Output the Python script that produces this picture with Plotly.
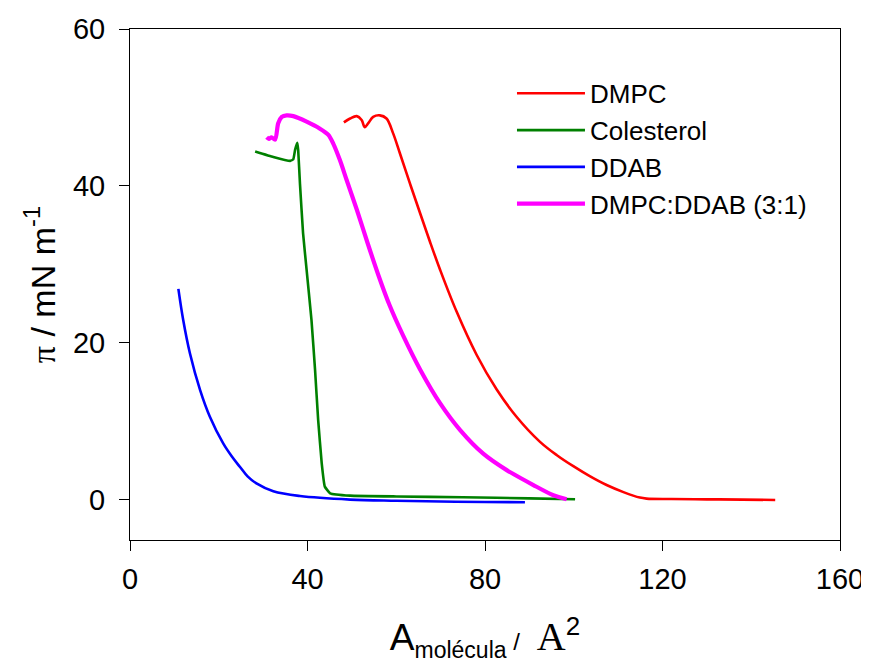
import plotly.graph_objects as go

# ---- data ----
dmpc_x = [48.2, 49.6, 51.1, 52.2, 52.9, 53.7, 54.8, 56.3, 57.8, 59.3, 60.8, 63.1, 65.4, 67.6, 69.9,
          73.6, 78.1, 82.6, 87.1, 92.4, 96.2, 99.9, 103.7, 107.4, 111.2, 114.9, 116.4, 122.0, 130.0, 138.0, 145.4]
dmpc_y = [48.1, 48.6, 48.9, 48.4, 47.5, 48.0, 48.8, 49.0, 48.6, 46.7, 44.2, 40.3, 36.5, 32.9, 29.3,
          24.0, 18.5, 14.1, 10.6, 7.4, 5.7, 4.3, 3.0, 1.9, 1.0, 0.3, 0.17, 0.12, 0.08, 0.05, 0.0]

col_x = [28.2, 32.3, 36.1, 36.8, 37.2, 37.7, 37.9, 38.3, 39.0, 39.8, 40.9, 41.7, 42.4, 43.2, 43.9,
         45.1, 49.6, 60.0, 75.0, 90.0, 100.3]
col_y = [44.4, 43.7, 43.2, 43.4, 44.6, 45.5, 44.6, 40.3, 34.0, 29.3, 22.9, 16.6, 10.2, 4.7, 1.7,
         0.85, 0.55, 0.45, 0.35, 0.2, 0.1]

ddab_x = [10.9, 12.0, 13.5, 15.8, 18.0, 21.0, 23.0, 24.8, 26.5, 28.5, 32.3, 38.3, 49.6, 60.0, 70.0, 80.0, 89.0]
ddab_y = [26.9, 22.9, 18.7, 14.0, 10.6, 7.2, 5.5, 4.2, 3.0, 2.1, 1.1, 0.5, 0.05, -0.1, -0.2, -0.25, -0.3]

mix_x = [30.8, 31.3, 31.9, 32.7, 33.4, 34.2, 35.3, 36.8, 39.8, 42.8, 44.7, 45.8, 47.3, 48.8, 51.1,
         53.5, 56.0, 58.5, 61.5, 65.4, 69.9, 74.4, 79.6, 84.9, 90.9, 95.4, 98.4]
mix_y = [46.2, 46.0, 46.2, 45.9, 48.0, 48.8, 49.0, 48.9, 48.2, 47.3, 46.5, 45.4, 43.3, 40.8, 37.0,
         32.8, 28.6, 24.8, 21.0, 16.6, 12.3, 8.9, 5.9, 3.8, 1.9, 0.6, 0.1]

series_names = ["DMPC", "Colesterol", "DDAB", "DMPC:DDAB (3:1)"]
x_ticks = [0, 40, 80, 120, 160]
y_ticks = [0, 20, 40, 60]

SANS = "Liberation Sans, Arial, sans-serif"
SERIF = "Liberation Serif, Times New Roman, serif"

fig = go.Figure()
specs = [
    (dmpc_x, dmpc_y, "#FF0000", 2.6, 1.0),
    (col_x, col_y, "#008000", 2.6, 0.3),
    (ddab_x, ddab_y, "#0000FF", 2.6, 1.0),
    (mix_x, mix_y, "#FF00FF", 4.2, 0.8),
]
for name, (xs, ys, c, w, sm) in zip(series_names, specs):
    fig.add_trace(go.Scatter(x=xs, y=ys, mode="lines", name=name,
                             line=dict(color=c, width=w, shape="spline", smoothing=sm)))

axis_common = dict(showgrid=False, zeroline=False, showline=True, linecolor="black",
                   linewidth=1, mirror=True, ticks="outside", ticklen=10, tickwidth=1,
                   tickcolor="black", automargin=False,
                   tickfont=dict(family=SANS, size=29, color="black"))

# the page body adds an 8px offset, so the figure is 8px smaller than the window
fig.update_layout(
    width=861, height=658,
    margin=dict(l=122, r=29, t=21, b=126),
    plot_bgcolor="white", paper_bgcolor="white",
    font=dict(family=SANS, color="black"),
    showlegend=True,
    legend=dict(x=0.538, y=0.92, xanchor="left", yanchor="top", itemwidth=68,
                bgcolor="rgba(0,0,0,0)", font=dict(family=SANS, size=26, color="black"),
                tracegroupgap=0),
    xaxis=dict(range=[0, 160], tickvals=x_ticks, ticktext=[str(v) for v in x_ticks],
               ticklabelstandoff=3,
               title=dict(text=('A<sub><span style="font-size:23px">molécula</span></sub>'
                                '<span style="font-size:24px"> / </span> '
                                f'<span style="font-family:{SERIF};font-size:40px">A</span>'
                                '<sup><span style="font-size:26px">2</span></sup>'),
                          font=dict(family=SANS, size=37), standoff=30),
               **axis_common),
    yaxis=dict(range=[-5.1, 60], tickvals=y_ticks, ticktext=[str(v) for v in y_ticks],
               ticklabelstandoff=8,
               title=dict(text=(f'<span style="font-family:{SERIF}">π</span> / mN m<sup>-1</sup>'),
                          font=dict(family=SANS, size=34), standoff=7),
               **axis_common),
)

fig.write_html("out.html")
